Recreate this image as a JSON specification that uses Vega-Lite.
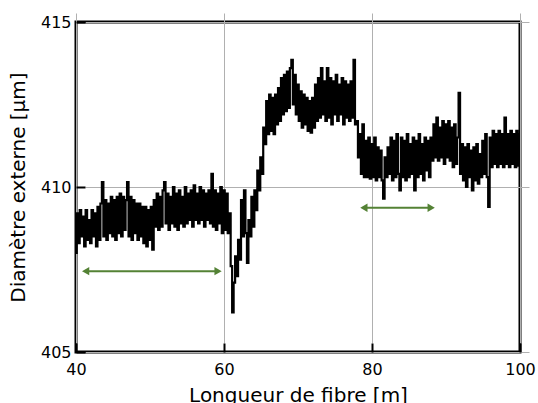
{
"$schema": "https://vega.github.io/schema/vega-lite/v6.json",
"width": 444, "height": 330,
"autosize": "none",
"padding": {"left": 76, "top": 22, "right": 18, "bottom": 51},
"background": "white",
"config": {
  "view": {"stroke": "black", "strokeWidth": 3},
  "font": "DejaVu Sans",
  "axis": {"labelFont": "DejaVu Sans", "titleFont": "DejaVu Sans", "labelFontSize": 16, "titleFontSize": 20, "labelColor": "black", "titleColor": "black", "titleFontWeight": "normal", "domain": false, "grid": true, "gridColor": "#b0b0b0", "gridWidth": 1, "tickColor": "black", "tickWidth": 2, "tickSize": 9, "offset": -9}
},
"datasets": {
"profile": [
{"x":40.0,"y":408.0},{"x":40.2,"y":409.2},{"x":40.4,"y":408.3},{"x":40.6,"y":409.3},{"x":40.8,"y":408.5},
{"x":41.0,"y":409.1},{"x":41.2,"y":408.2},{"x":41.4,"y":409.3},{"x":41.6,"y":408.4},{"x":41.8,"y":409.0},
{"x":42.0,"y":408.3},{"x":42.2,"y":409.3},{"x":42.4,"y":408.5},{"x":42.6,"y":409.2},{"x":42.8,"y":408.2},
{"x":43.0,"y":409.4},{"x":43.2,"y":408.4},{"x":43.4,"y":409.5},{"x":43.6,"y":410.15},{"x":43.8,"y":408.5},
{"x":44.0,"y":409.6},{"x":44.2,"y":408.4},{"x":44.4,"y":409.5},{"x":44.6,"y":408.6},{"x":44.8,"y":409.7},
{"x":45.0,"y":408.5},{"x":45.2,"y":409.6},{"x":45.4,"y":408.4},{"x":45.6,"y":409.7},{"x":45.8,"y":408.6},
{"x":46.0,"y":409.8},{"x":46.2,"y":408.5},{"x":46.4,"y":409.7},{"x":46.6,"y":408.7},{"x":46.8,"y":409.6},
{"x":47.0,"y":410.15},{"x":47.2,"y":408.5},{"x":47.4,"y":409.7},{"x":47.6,"y":408.4},{"x":47.8,"y":409.6},
{"x":48.0,"y":408.6},{"x":48.2,"y":409.5},{"x":48.4,"y":408.4},{"x":48.6,"y":409.5},{"x":48.8,"y":408.5},
{"x":49.0,"y":409.4},{"x":49.2,"y":408.3},{"x":49.4,"y":409.4},{"x":49.6,"y":408.2},{"x":49.8,"y":409.3},
{"x":50.0,"y":408.4},{"x":50.2,"y":409.4},{"x":50.4,"y":408.1},{"x":50.6,"y":409.6},{"x":50.8,"y":408.8},
{"x":51.0,"y":409.8},{"x":51.2,"y":408.7},{"x":51.4,"y":409.7},{"x":51.6,"y":408.8},{"x":51.8,"y":409.9},
{"x":52.0,"y":410.15},{"x":52.2,"y":408.9},{"x":52.4,"y":409.8},{"x":52.6,"y":408.7},{"x":52.8,"y":409.7},
{"x":53.0,"y":408.9},{"x":53.2,"y":410.0},{"x":53.4,"y":408.8},{"x":53.6,"y":409.8},{"x":53.8,"y":408.7},
{"x":54.0,"y":409.9},{"x":54.2,"y":408.9},{"x":54.4,"y":409.7},{"x":54.6,"y":408.8},{"x":54.8,"y":410.0},
{"x":55.0,"y":408.9},{"x":55.2,"y":409.8},{"x":55.4,"y":409.0},{"x":55.6,"y":409.9},{"x":55.8,"y":408.8},
{"x":56.0,"y":410.05},{"x":56.2,"y":409.0},{"x":56.4,"y":409.8},{"x":56.6,"y":408.9},{"x":56.8,"y":410.0},
{"x":57.0,"y":409.0},{"x":57.2,"y":409.9},{"x":57.4,"y":408.8},{"x":57.6,"y":409.8},{"x":57.8,"y":409.0},
{"x":58.0,"y":409.9},{"x":58.2,"y":408.9},{"x":58.4,"y":410.4},{"x":58.6,"y":408.8},{"x":58.8,"y":409.9},
{"x":59.0,"y":408.7},{"x":59.2,"y":409.8},{"x":59.4,"y":408.9},{"x":59.6,"y":410.0},{"x":59.8,"y":408.6},
{"x":60.0,"y":409.9},{"x":60.2,"y":408.7},{"x":60.4,"y":409.8},{"x":60.6,"y":408.6},{"x":60.8,"y":409.2},
{"x":61.0,"y":407.6},{"x":61.2,"y":406.2},{"x":61.4,"y":407.1},{"x":61.6,"y":407.9},{"x":61.8,"y":407.3},
{"x":62.0,"y":408.4},{"x":62.2,"y":407.8},{"x":62.4,"y":409.6},{"x":62.6,"y":408.5},{"x":62.8,"y":409.9},
{"x":63.0,"y":408.6},{"x":63.2,"y":407.7},{"x":63.4,"y":409.0},{"x":63.6,"y":408.5},{"x":63.8,"y":409.7},
{"x":64.0,"y":408.8},{"x":64.2,"y":409.9},{"x":64.4,"y":409.3},{"x":64.6,"y":410.5},{"x":64.8,"y":409.9},
{"x":65.0,"y":410.9},{"x":65.2,"y":410.4},{"x":65.4,"y":411.8},{"x":65.6,"y":411.3},{"x":65.8,"y":412.6},
{"x":66.0,"y":411.6},{"x":66.2,"y":412.8},{"x":66.4,"y":411.7},{"x":66.6,"y":412.7},{"x":66.8,"y":411.6},
{"x":67.0,"y":412.8},{"x":67.2,"y":411.9},{"x":67.4,"y":413.0},{"x":67.6,"y":412.0},{"x":67.8,"y":413.3},
{"x":68.0,"y":412.2},{"x":68.2,"y":413.4},{"x":68.4,"y":412.3},{"x":68.6,"y":413.5},{"x":68.8,"y":412.4},
{"x":69.0,"y":413.6},{"x":69.2,"y":413.85},{"x":69.4,"y":412.5},{"x":69.6,"y":413.4},{"x":69.8,"y":412.2},
{"x":70.0,"y":413.1},{"x":70.2,"y":412.0},{"x":70.4,"y":412.9},{"x":70.6,"y":411.8},{"x":70.8,"y":412.8},
{"x":71.0,"y":411.9},{"x":71.2,"y":412.7},{"x":71.4,"y":411.7},{"x":71.6,"y":412.6},{"x":71.8,"y":411.65},
{"x":72.0,"y":412.7},{"x":72.2,"y":411.8},{"x":72.4,"y":413.1},{"x":72.6,"y":412.0},{"x":72.8,"y":413.3},
{"x":73.0,"y":412.1},{"x":73.2,"y":413.6},{"x":73.4,"y":412.2},{"x":73.6,"y":413.2},{"x":73.8,"y":412.0},
{"x":74.0,"y":413.6},{"x":74.2,"y":412.1},{"x":74.4,"y":413.3},{"x":74.6,"y":411.9},{"x":74.8,"y":413.2},
{"x":75.0,"y":412.2},{"x":75.2,"y":413.4},{"x":75.4,"y":412.0},{"x":75.6,"y":413.1},{"x":75.8,"y":412.2},
{"x":76.0,"y":413.3},{"x":76.2,"y":411.9},{"x":76.4,"y":413.2},{"x":76.6,"y":412.1},{"x":76.8,"y":413.1},
{"x":77.0,"y":412.0},{"x":77.2,"y":413.2},{"x":77.4,"y":412.1},{"x":77.6,"y":413.85},{"x":77.8,"y":411.9},
{"x":78.0,"y":412.0},{"x":78.2,"y":410.9},{"x":78.4,"y":411.6},{"x":78.6,"y":410.4},{"x":78.8,"y":411.9},
{"x":79.0,"y":410.3},{"x":79.2,"y":411.4},{"x":79.4,"y":410.3},{"x":79.6,"y":411.5},{"x":79.8,"y":410.25},
{"x":80.0,"y":411.3},{"x":80.2,"y":410.3},{"x":80.4,"y":411.5},{"x":80.6,"y":410.2},{"x":80.8,"y":411.2},
{"x":81.0,"y":410.3},{"x":81.2,"y":411.1},{"x":81.4,"y":410.2},{"x":81.6,"y":409.65},{"x":81.8,"y":410.9},
{"x":82.0,"y":410.3},{"x":82.2,"y":411.2},{"x":82.4,"y":410.4},{"x":82.6,"y":411.5},{"x":82.8,"y":410.2},
{"x":83.0,"y":411.4},{"x":83.2,"y":410.3},{"x":83.4,"y":411.6},{"x":83.6,"y":410.4},{"x":83.8,"y":409.9},
{"x":84.0,"y":411.5},{"x":84.2,"y":410.3},{"x":84.4,"y":411.4},{"x":84.6,"y":410.2},{"x":84.8,"y":411.6},
{"x":85.0,"y":410.3},{"x":85.2,"y":411.3},{"x":85.4,"y":410.4},{"x":85.6,"y":411.5},{"x":85.8,"y":409.9},
{"x":86.0,"y":411.4},{"x":86.2,"y":410.3},{"x":86.4,"y":411.6},{"x":86.6,"y":410.4},{"x":86.8,"y":411.3},
{"x":87.0,"y":410.2},{"x":87.2,"y":411.5},{"x":87.4,"y":410.5},{"x":87.6,"y":411.4},{"x":87.8,"y":410.3},
{"x":88.0,"y":411.5},{"x":88.2,"y":410.8},{"x":88.4,"y":411.9},{"x":88.6,"y":410.9},{"x":88.8,"y":412.1},
{"x":89.0,"y":410.8},{"x":89.2,"y":411.8},{"x":89.4,"y":410.9},{"x":89.6,"y":412.0},{"x":89.8,"y":410.7},
{"x":90.0,"y":411.9},{"x":90.2,"y":410.9},{"x":90.4,"y":412.0},{"x":90.6,"y":410.8},{"x":90.8,"y":411.8},
{"x":91.0,"y":410.6},{"x":91.2,"y":411.9},{"x":91.4,"y":410.7},{"x":91.6,"y":411.5},{"x":91.8,"y":412.85},
{"x":92.0,"y":410.4},{"x":92.2,"y":411.3},{"x":92.4,"y":410.2},{"x":92.6,"y":411.2},{"x":92.8,"y":410.0},
{"x":93.0,"y":411.3},{"x":93.2,"y":410.3},{"x":93.4,"y":411.1},{"x":93.6,"y":409.9},{"x":93.8,"y":411.2},
{"x":94.0,"y":410.2},{"x":94.2,"y":411.3},{"x":94.4,"y":410.1},{"x":94.6,"y":411.0},{"x":94.8,"y":410.3},
{"x":95.0,"y":411.4},{"x":95.2,"y":410.4},{"x":95.4,"y":411.6},{"x":95.6,"y":410.3},{"x":95.8,"y":409.4},
{"x":96.0,"y":411.5},{"x":96.2,"y":410.6},{"x":96.4,"y":411.7},{"x":96.6,"y":410.7},{"x":96.8,"y":411.6},
{"x":97.0,"y":410.6},{"x":97.2,"y":411.7},{"x":97.4,"y":410.7},{"x":97.6,"y":411.6},{"x":97.8,"y":410.6},
{"x":98.0,"y":412.1},{"x":98.2,"y":410.7},{"x":98.4,"y":411.6},{"x":98.6,"y":410.6},{"x":98.8,"y":411.7},
{"x":99.0,"y":410.7},{"x":99.2,"y":411.6},{"x":99.4,"y":410.6},{"x":99.6,"y":411.7},{"x":99.8,"y":410.65},
{"x":100.0,"y":411.6}
],
"arrows": [
{"start":41.3,"end":59.2,"level":407.45},
{"start":78.9,"end":88.0,"level":409.37}
]
},
"layer": [
{
  "data": {"name": "profile"},
  "mark": {"type": "line", "color": "black", "strokeWidth": 2.2, "interpolate": "step", "clip": true},
  "encoding": {
    "x": {"field": "x", "type": "quantitative", "scale": {"domain": [40, 100], "nice": false, "zero": false},
          "axis": {"values": [40, 60, 80, 100], "title": "Longueur de fibre [m]", "labelPadding": 9, "titlePadding": 8, "labelFlush": false}},
    "y": {"field": "y", "type": "quantitative", "scale": {"domain": [405, 415], "nice": false, "zero": false},
          "axis": {"values": [405, 410, 415], "title": "Diamètre externe [µm]", "labelPadding": 5, "titlePadding": 12, "labelFlush": false}}
  }
},
{
  "data": {"name": "arrows"},
  "mark": {"type": "rule", "color": "#548235", "strokeWidth": 2},
  "encoding": {
    "x": {"field": "start", "type": "quantitative"},
    "x2": {"field": "end"},
    "y": {"field": "level", "type": "quantitative"}
  }
},
{
  "data": {"name": "arrows"},
  "mark": {"type": "point", "shape": "triangle-left", "filled": true, "color": "#548235", "size": 70, "opacity": 1},
  "encoding": {
    "x": {"field": "start", "type": "quantitative"},
    "y": {"field": "level", "type": "quantitative"}
  }
},
{
  "data": {"name": "arrows"},
  "mark": {"type": "point", "shape": "triangle-right", "filled": true, "color": "#548235", "size": 70, "opacity": 1},
  "encoding": {
    "x": {"field": "end", "type": "quantitative"},
    "y": {"field": "level", "type": "quantitative"}
  }
}
]
}
